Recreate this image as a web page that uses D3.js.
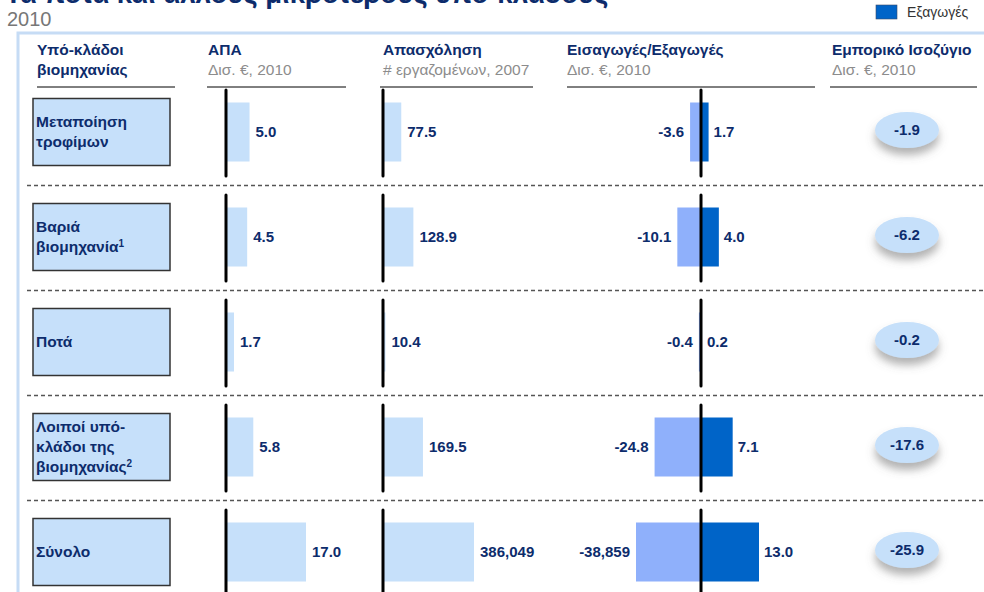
<!DOCTYPE html>
<html>
<head>
<meta charset="utf-8">
<script src="https://cdn.jsdelivr.net/npm/d3@7"></script>
<style>
    body { margin: 0; background: #fff; }
    svg { display: block; font-family: 'Liberation Sans', Arial, sans-serif; }
</style>
</head>
<body>
<div id="chart"></div>
<script>
// Row labels (lines) and footnote markers
const subsectors = [
    ['Μεταποίηση', 'τροφίμων'],
    ['Βαριά', 'βιομηχανία'],
    ['Ποτά'],
    ['Λοιποί υπό-', 'κλάδοι της', 'βιομηχανίας'],
    ['Σύνολο']
];
const footnotes = ['', '1', '', '2', ''];

// ΑΠΑ, Δισ. €, 2010
const gva = [5.0, 4.5, 1.7, 5.8, 17.0];
// Απασχόληση, χιλ. εργαζόμενοι, 2007
const employment = [77.5, 128.9, 10.4, 169.5, 386.049];
const employmentLabels = ['77.5', '128.9', '10.4', '169.5', '386,049'];
// Εισαγωγές / Εξαγωγές, Δισ. €, 2010
const imports = [-3.6, -10.1, -0.4, -24.8, -38.859];
const importLabels = ['-3.6', '-10.1', '-0.4', '-24.8', '-38,859'];
const exports = [1.7, 4.0, 0.2, 7.1, 13.0];
// Εμπορικό ισοζύγιο
const balance = [-1.9, -6.2, -0.2, -17.6, -25.9];

const headers = [
    { x: 37, title: 'Υπό-κλάδοι', sub: 'βιομηχανίας', bold: true, x1: 37, x2: 175 },
    { x: 208, title: 'ΑΠΑ', sub: 'Δισ. €, 2010', x1: 207, x2: 346 },
    { x: 383, title: 'Απασχόληση', sub: '# εργαζομένων, 2007', x1: 380, x2: 533 },
    { x: 567, title: 'Εισαγωγές/Εξαγωγές', sub: 'Δισ. €, 2010', x1: 567, x2: 815 },
    { x: 832, title: 'Εμπορικό Ισοζύγιο', sub: 'Δισ. €, 2010', x1: 830, x2: 977 }
];

const navy = '#0d2c6c';
const lightBlue = '#c6e0fa';
const width = 984, height = 592;

const svg = d3.select('#chart').append('svg')
    .attr('width', width)
    .attr('height', height);

const defs = svg.append('defs');
defs.append('filter')
    .attr('id', 'shadow')
    .attr('x', '-30%').attr('y', '-30%').attr('width', '160%').attr('height', '190%')
    .append('feDropShadow')
    .attr('dx', 0).attr('dy', 7)
    .attr('stdDeviation', 4)
    .attr('flood-color', '#666')
    .attr('flood-opacity', 0.5);

// title (cut off at the top of the frame)
svg.append('text')
    .attr('x', 5).attr('y', 3)
    .attr('font-size', 27.5).attr('font-weight', 'bold')
    .attr('fill', navy)
    .text('Τα ποτά και άλλους μικρότερους υπο-κλάδους');

svg.append('text')
    .attr('x', 7).attr('y', 26)
    .attr('font-size', 20).attr('fill', '#777')
    .text('2010');

// legend
svg.append('rect')
    .attr('x', 876).attr('y', 5).attr('width', 21).attr('height', 14)
    .attr('fill', '#0064c8').attr('stroke', '#3a4a6a').attr('stroke-width', 0.6);
svg.append('text')
    .attr('x', 907).attr('y', 17)
    .attr('font-size', 14).attr('fill', '#333')
    .text('Εξαγωγές');

// panel frame
svg.append('path')
    .attr('d', `M18,${height}V33H${width}`)
    .attr('fill', 'none')
    .attr('stroke', '#c6dcf5')
    .attr('stroke-width', 3);

// column headers
const hdr = svg.append('g').selectAll('g').data(headers).join('g');
hdr.append('text')
    .attr('x', d => d.x).attr('y', 55)
    .attr('font-size', 15.5).attr('font-weight', 'bold').attr('fill', navy)
    .text(d => d.title);
hdr.append('text')
    .attr('x', d => d.x).attr('y', 75)
    .attr('font-size', 15.5)
    .attr('font-weight', d => d.bold ? 'bold' : 'normal')
    .attr('fill', d => d.bold ? navy : '#8c8c8c')
    .text(d => d.sub);
hdr.append('line')
    .attr('x1', d => d.x1).attr('x2', d => d.x2)
    .attr('y1', 87).attr('y2', 87)
    .attr('stroke', '#000').attr('stroke-width', 1);

// rows
const rows = d3.range(subsectors.length);
const y = d3.scalePoint().domain(rows).range([132, 552]);
const step = y.step();

const barH = 59, boxH = 67;

// dashed separators
svg.append('g').selectAll('line')
    .data(rows.slice(1))
    .join('line')
    .attr('x1', 27).attr('x2', width)
    .attr('y1', d => y(d) - step / 2 + 1)
    .attr('y2', d => y(d) - step / 2 + 1)
    .attr('stroke', '#555')
    .attr('stroke-width', 1.3)
    .attr('stroke-dasharray', '4,3');

// label boxes
const lbl = svg.append('g').selectAll('g').data(rows).join('g');
lbl.append('rect')
    .attr('x', 33).attr('width', 137)
    .attr('y', d => y(d) - boxH / 2).attr('height', boxH)
    .attr('fill', lightBlue)
    .attr('stroke', '#333').attr('stroke-width', 1.5);
lbl.each(function(d) {
    const lines = subsectors[d];
    const lh = 20;
    const t = d3.select(this).append('text')
        .attr('font-size', 15.5).attr('font-weight', 'bold').attr('fill', navy);
    lines.forEach((s, i) => {
        t.append('tspan')
            .attr('x', 36)
            .attr('y', y(d) + (i - (lines.length - 1) / 2) * lh + 5)
            .text(s);
        if (i === lines.length - 1 && footnotes[d]) {
            t.append('tspan')
                .attr('font-size', 10)
                .attr('dy', -5)
                .text(footnotes[d]);
        }
    });
});

// scales
const gvaX0 = 226, empX0 = 383, tradeX0 = 701, balX = 907;
const xGva = d3.scaleLinear().domain([0, 17]).range([0, 80]);
const xEmp = d3.scaleLinear().domain([0, 386.049]).range([0, 91]);
const xImp = d3.scalePow().exponent(0.75).domain([0, 38.859]).range([0, 65]);
const xExp = d3.scaleLinear().domain([0, 13]).range([0, 58]);

const fmt = d => d.toFixed(1);
const valueText = sel => sel
    .attr('font-size', 15).attr('font-weight', 'bold').attr('fill', navy);

// ΑΠΑ
const gGva = svg.append('g');
gGva.selectAll('rect').data(gva).join('rect')
    .attr('x', gvaX0).attr('width', d => xGva(d))
    .attr('y', (d, i) => y(i) - barH / 2).attr('height', barH)
    .attr('fill', lightBlue);
gGva.selectAll('text').data(gva).join('text')
    .attr('x', d => gvaX0 + xGva(d) + 6)
    .attr('y', (d, i) => y(i) + 5)
    .call(valueText)
    .text(d => fmt(d));

// Απασχόληση
const gEmp = svg.append('g');
gEmp.selectAll('rect').data(employment).join('rect')
    .attr('x', empX0).attr('width', d => xEmp(d))
    .attr('y', (d, i) => y(i) - barH / 2).attr('height', barH)
    .attr('fill', lightBlue);
gEmp.selectAll('text').data(employment).join('text')
    .attr('x', d => empX0 + xEmp(d) + 6)
    .attr('y', (d, i) => y(i) + 5)
    .call(valueText)
    .text((d, i) => employmentLabels[i]);

// Εισαγωγές / Εξαγωγές
const gTrade = svg.append('g');
gTrade.selectAll('rect.imp').data(imports).join('rect')
    .attr('class', 'imp')
    .attr('x', d => tradeX0 - xImp(Math.abs(d))).attr('width', d => xImp(Math.abs(d)))
    .attr('y', (d, i) => y(i) - barH / 2).attr('height', barH)
    .attr('fill', '#8fb0fb');
gTrade.selectAll('rect.exp').data(exports).join('rect')
    .attr('class', 'exp')
    .attr('x', tradeX0).attr('width', d => xExp(d))
    .attr('y', (d, i) => y(i) - barH / 2).attr('height', barH)
    .attr('fill', '#0064c8');
gTrade.selectAll('text.imp').data(imports).join('text')
    .attr('class', 'imp')
    .attr('x', d => tradeX0 - xImp(Math.abs(d)) - 6)
    .attr('y', (d, i) => y(i) + 5)
    .attr('text-anchor', 'end')
    .call(valueText)
    .text((d, i) => importLabels[i]);
gTrade.selectAll('text.exp').data(exports).join('text')
    .attr('class', 'exp')
    .attr('x', d => tradeX0 + xExp(d) + 5)
    .attr('y', (d, i) => y(i) + 5)
    .call(valueText)
    .text(d => fmt(d));

// axis lines
svg.append('g').selectAll('line')
    .data(d3.cross(rows, [gvaX0, empX0, tradeX0]))
    .join('line')
    .attr('x1', d => d[1]).attr('x2', d => d[1])
    .attr('y1', d => y(d[0]) - 42).attr('y2', d => y(d[0]) + 44)
    .attr('stroke', '#000').attr('stroke-width', 3)
    .attr('stroke-linecap', 'round');

// Εμπορικό ισοζύγιο
const gBal = svg.append('g');
gBal.selectAll('ellipse').data(balance).join('ellipse')
    .attr('cx', balX).attr('cy', (d, i) => y(i) - 2)
    .attr('rx', 32).attr('ry', 18)
    .attr('fill', lightBlue)
    .attr('filter', 'url(#shadow)');
gBal.selectAll('text').data(balance).join('text')
    .attr('x', balX).attr('y', (d, i) => y(i) + 3)
    .attr('text-anchor', 'middle')
    .call(valueText)
    .text(d => fmt(d));
</script>
</body>
</html>
